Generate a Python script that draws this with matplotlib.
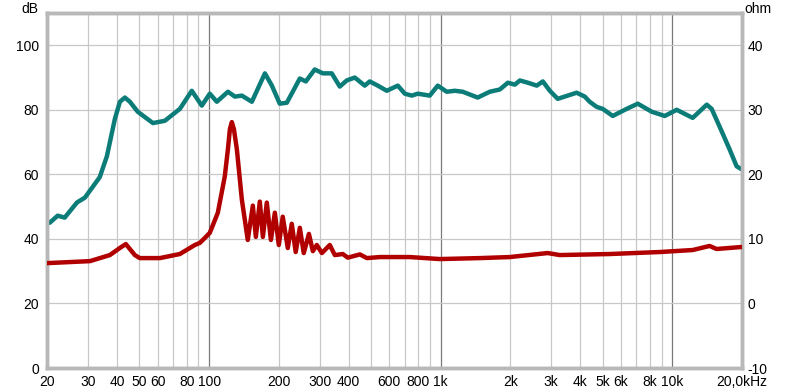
import numpy as np
import matplotlib.pyplot as plt
from matplotlib.ticker import FixedLocator, NullFormatter

plt.rcParams['font.family'] = ['Liberation Sans', 'DejaVu Sans']
plt.rcParams['axes.unicode_minus'] = False

# SPL response (Hz, dB)
spl_freq = [20.5, 22.2, 23.8, 26.9, 29.1, 33.7, 36.2, 39.2, 41.2, 43.3, 45.5, 49.2,
            57.2, 64.4, 74.8, 84.2, 93.0, 100.7, 108, 120.6, 129.2, 138.5, 153,
            174.2, 186.7, 201.9, 216.6, 246.5, 261.7, 285.9, 309.7, 338.7, 366.7,
            393, 425.6, 470, 494, 535, 585, 653, 700, 750, 796, 897, 971, 1062,
            1151, 1245, 1445, 1629, 1800, 1950, 2090, 2198, 2378, 2600, 2761, 2960,
            3202, 3430, 3865, 4188, 4399, 4720, 5006, 5532, 6357, 7096, 8155, 9277,
            10450, 12250, 14090, 14790, 16030, 17670, 18960, 19910]
spl_db = [45.0, 47.2, 46.6, 51.3, 52.8, 59.1, 65.6, 77.2, 82.5, 83.8, 82.5, 79.4,
          75.9, 76.6, 80.3, 85.9, 81.3, 85.0, 82.5, 85.6, 84.1, 84.4, 82.5,
          91.3, 87.5, 81.9, 82.2, 89.7, 88.8, 92.5, 91.3, 91.3, 87.2,
          89.1, 90.0, 87.5, 88.8, 87.5, 85.9, 87.5, 85.0, 84.4, 85.0, 84.4, 87.5, 85.6,
          85.9, 85.6, 83.8, 85.6, 86.3, 88.4, 87.8, 89.1, 88.4, 87.5, 88.8, 85.9,
          83.4, 84.1, 85.3, 84.1, 82.5, 80.9, 80.3, 78.1, 80.3, 81.9, 79.4, 78.1,
          80.0, 77.5, 81.6, 80.3, 74.7, 67.8, 62.5, 61.6]

# impedance (Hz, ohm)
imp_freq = [20, 30.6, 37.3, 41.2, 43.7, 47.8, 50.2, 61.3, 74.8, 86.8, 91.2, 95.9,
            100.7, 109.1, 116.9, 120.6, 123, 125.4, 128, 131.8, 138.5, 146.9,
            154.5, 159.2, 165.6, 170.7, 177.5, 184.9, 192.3, 200, 208, 218.7,
            227.5, 236.6, 246.5, 256.3, 269.8, 280.6, 291.8, 306.9, 332, 349,
            378, 397, 448, 480, 546, 736, 991, 1476, 1986, 2897, 3266, 5369,
            8829, 12250, 14490, 15530, 19910]
imp_ohm = [6.25, 6.56, 7.5, 8.6, 9.2, 7.5, 7.03, 7.03, 7.66, 9.06, 9.38, 10.16,
           10.94, 14.06, 19.69, 23.9, 27.0, 28.1, 27.0, 23.9, 16.1, 9.84,
           15.16, 10.31, 15.78, 10.31, 15.63, 9.84, 14.06, 9.06, 13.44, 8.59,
           12.34, 7.97, 11.72, 7.81, 10.78, 8.1, 9.06, 7.81, 9.06, 7.5,
           7.66, 7.1, 7.6, 7.03, 7.19, 7.19, 6.88, 7.03, 7.19, 7.81, 7.5, 7.66,
           7.97, 8.28, 8.91, 8.44, 8.75]

x_ticks = [20, 30, 40, 50, 60, 80, 100, 200, 300, 400, 600, 800, 1000, 2000, 3000,
           4000, 5000, 6000, 8000, 10000, 20000]
x_labels = ['20', '30', '40', '50', '60', '80', '100', '200', '300', '400', '600',
            '800', '1k', '2k', '3k', '4k', '5k', '6k', '8k', '10k', '20,0kHz']
db_ticks = [0, 20, 40, 60, 80, 100]
ohm_ticks = [-10, 0, 10, 20, 30, 40]

fig = plt.figure(figsize=(8, 3.88), dpi=100)
ax = fig.add_axes([0.059, 0.0515, 0.8685, 0.915])
ax2 = ax.twinx()

ax.set_xscale('log')
ax.set_xlim(20, 20000)
ax.set_ylim(0, 110)
ax2.set_ylim(-10, 45)

# grid
minor = [m * d for d in (10, 100, 1000, 10000) for m in range(1, 10)]
minor = [v for v in minor if 20 < v < 20000 and v not in (100, 1000, 10000)]
for v in minor:
    ax.axvline(v, color='#c8c8c8', lw=0.9, zorder=0)
for v in (100, 1000, 10000):
    ax.axvline(v, color='#7a7a7a', lw=0.9, zorder=0)
for v in db_ticks[1:]:
    ax.axhline(v, color='#c8c8c8', lw=0.9, zorder=0)

ax.plot(spl_freq, spl_db, color='#0b7c78', lw=3.2, solid_joinstyle='round',
        solid_capstyle='round', zorder=3)
ax2.plot(imp_freq, imp_ohm, color='#b00000', lw=3.2, solid_joinstyle='round',
         solid_capstyle='round', zorder=3)

ax.xaxis.set_major_locator(FixedLocator(x_ticks))
ax.xaxis.set_minor_formatter(NullFormatter())
ax.set_xticklabels(x_labels)
ax.set_yticks(db_ticks)
ax2.set_yticks(ohm_ticks)

for a in (ax, ax2):
    a.tick_params(which='both', length=0, labelsize=10, colors='black')
    for s in a.spines.values():
        s.set_color('#b8b8b8')
        s.set_linewidth(2.5)
ax.tick_params(axis='x', pad=5)
ax.tick_params(axis='y', pad=6)
ax2.tick_params(axis='y', pad=4)

fig.text(0.037, 0.995, 'dB', ha='center', va='top', fontsize=10)
fig.text(0.947, 0.995, 'ohm', ha='center', va='top', fontsize=10)

fig.savefig('out.png', dpi=100)
